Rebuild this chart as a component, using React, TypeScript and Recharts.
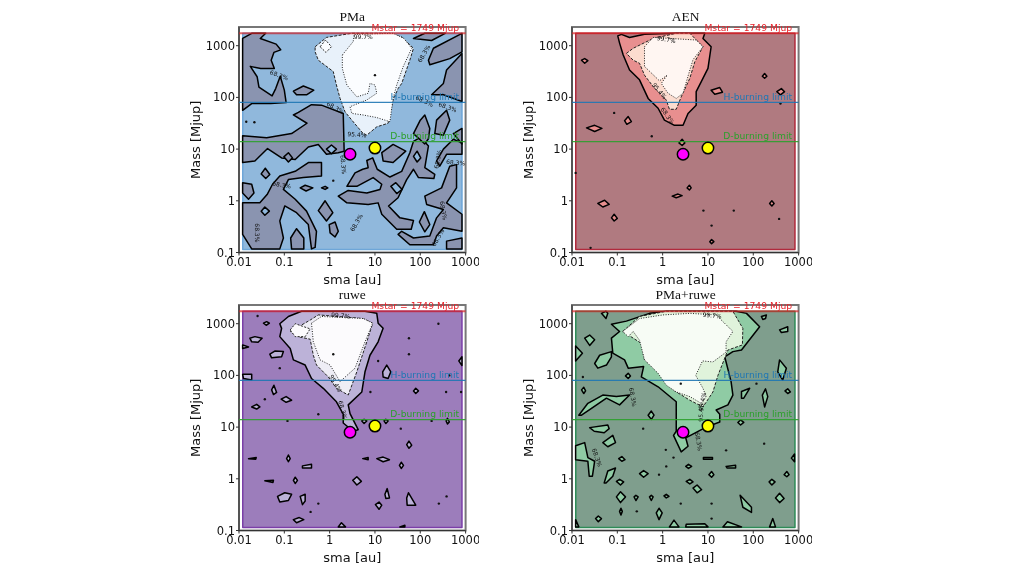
import { ScatterChart, Scatter, XAxis, YAxis, ReferenceArea, Polygon } from 'recharts';

type Pt = number[];

const SMA_TICKS = [0.01, 0.1, 1, 10, 100, 1000];
const MASS_TICKS = [0.1, 1, 10, 100, 1000];
const LIMIT_VALUES = [1749, 80, 14];
const LIMIT_NAMES = ['Mstar = 1749 Mjup', 'H-burning limit', 'D-burning limit'];
const LIMIT_COLORS = ['#e8222a', '#1f77b4', '#2ca02c'];

// all contour vertices below are [log10 sma, log10 mass]
const REGION: Pt[] = [[-1.917, -0.94], [2.92, -0.94], [2.92, 3.243], [-1.917, 3.243]];
const COMPANIONS: Pt[] = [[0.45, 0.9]];
const COMPANIONS_B: Pt[] = [[1.0, 1.02]];

const PMA_ISLANDS: Pt[][] = [
  [[-1.92, 3.14], [-1.72, 3.24], [-1.41, 3.24], [-1.53, 3.14], [-1.18, 3.03], [-1.08, 2.92], [-1.23, 2.87], [-1.29, 2.72], [-1.22, 2.56], [-1.52, 2.56], [-1.75, 2.6], [-1.6, 2.4], [-1.56, 2.2], [-1.27, 2.03], [-1.19, 2.17], [-1.09, 2.41], [-1.0, 2.14], [-0.96, 1.9], [-1.3, 1.88], [-1.72, 1.88], [-1.92, 1.75]],
  [[-0.69, 1.71], [-0.4, 1.86], [-0.18, 1.85], [0.3, 1.69], [0.32, 0.96], [0.19, 0.93], [-0.07, 0.9], [-0.25, 1.09], [-0.47, 1.04], [-0.76, 0.8], [-1.06, 0.83], [-1.37, 1.01], [-1.65, 0.77], [-1.92, 0.74], [-1.92, 1.26], [-1.39, 1.22], [-0.84, 1.3], [-0.5, 1.5], [-0.8, 1.66]],
  [[-0.8, 2.12], [-0.58, 2.22], [-0.35, 2.14], [-0.51, 2.05], [-0.73, 2.05]],
  [[-1.92, 0.35], [-1.72, 0.32], [-1.67, 0.15], [-1.79, 0.03], [-1.92, 0.15]],
  [[-1.92, -0.04], [-1.54, -0.04], [-1.38, 0.12], [-1.26, 0.32], [-1.1, 0.48], [-0.76, 0.57], [-0.47, 0.74], [-0.18, 0.74], [-0.18, 0.48], [-0.58, 0.45], [-0.91, 0.41], [-1.02, 0.22], [-0.76, 0.03], [-0.51, -0.2], [-0.29, -0.59], [-0.32, -0.9], [-0.4, -0.93], [-0.47, -0.46], [-0.73, -0.23], [-0.99, -0.1], [-1.1, -0.39], [-1.02, -0.72], [-1.1, -0.93], [-1.72, -0.93], [-1.92, -0.65]],
  [[-0.73, -0.54], [-0.57, -0.72], [-0.57, -0.93], [-0.84, -0.93], [-0.86, -0.72]],
  [[-1.51, 0.52], [-1.42, 0.63], [-1.32, 0.51], [-1.41, 0.43]],
  [[-1.01, 0.85], [-0.91, 0.93], [-0.82, 0.83], [-0.91, 0.75]],
  [[-0.65, 0.25], [-0.54, 0.3], [-0.37, 0.25], [-0.52, 0.19]],
  [[-0.18, 0.25], [-0.1, 0.28], [-0.04, 0.25], [-0.1, 0.22]],
  [[-0.25, -0.19], [-0.1, 0], [0.07, -0.23], [-0.07, -0.39]],
  [[-0.01, -0.46], [0.12, -0.41], [0.19, -0.59], [0.12, -0.7], [0.01, -0.62]],
  [[1.15, 0.93], [1.4, 1.09], [1.68, 0.96], [1.4, 0.74], [1.18, 0.77]],
  [[0.38, 0.28], [0.56, 0.54], [0.73, 0.61], [0.85, 0.64], [0.82, 0.78], [0.95, 0.83], [1.05, 0.61], [1.33, 0.46], [1.59, 0.57], [1.77, 0.93], [1.85, 1.15], [2.01, 1.23], [2.18, 1.06], [2.1, 0.64], [2.32, 0.51], [2.3, 0.43], [1.96, 0.45], [1.85, 0.61], [1.7, 0.41], [1.51, 0.06], [1.3, -0.1], [1.55, -0.33], [1.85, -0.38], [1.8, -0.55], [1.48, -0.55], [1.15, -0.26], [1.07, -0.04], [0.85, -0.07], [0.38, -0.04], [0.19, 0.09], [0.41, 0.2], [0.82, 0.15], [1.11, 0.22], [1.15, 0.32], [0.96, 0.45], [0.6, 0.28]],
  [[2.58, -0.78], [2.92, -0.72], [2.92, -0.93], [2.58, -0.93]],
  [[2.1, 0.09], [2.47, 0.25], [2.65, 0.67], [2.8, 0.7], [2.8, 0.25], [2.58, -0.04], [2.92, -0.26], [2.92, -0.59], [2.51, -0.52], [2.36, -0.68], [2.29, -0.85], [1.77, -0.85], [1.51, -0.65], [1.59, -0.59], [1.85, -0.72], [2.21, -0.68], [2.36, -0.33], [2.51, -0.17], [2.14, -0.07]],
  [[1.98, -0.41], [2.09, -0.21], [2.21, -0.46], [2.1, -0.6]],
  [[2.36, 0.77], [2.51, 1], [2.73, 1.19], [2.92, 1.12], [2.92, 0.9], [2.58, 0.9], [2.43, 0.67]],
  [[2.18, 2.72], [2.29, 2.95], [2.92, 3.24], [2.92, 2.88], [2.65, 2.75], [2.21, 2.63]],
  [[1.85, 3.14], [2.1, 3.24], [2.55, 3.24], [2.25, 3.1]],
  [[2.25, 2.05], [2.51, 2.27], [2.58, 2.53], [2.92, 2.85], [2.92, 1.92], [2.51, 2.05]],
  [[1.85, 1.3], [2, 1.56], [2.1, 1.66], [2.21, 1.4], [2.18, 1.2], [2.1, 1.1]],
  [[2.36, 1.56], [2.58, 1.75], [2.65, 1.56], [2.51, 1.27], [2.32, 1.3]],
  [[2.73, 1.3], [2.92, 1.4], [2.92, 1.1]],
];
const PMA_HOLES: Pt[][] = [
  [[-1.51, -0.2], [-1.43, -0.12], [-1.33, -0.2], [-1.43, -0.28]],
  [[1.85, 0.86], [1.93, 0.96], [2.01, 0.83], [1.93, 0.75]],
  [[1.35, 0.28], [1.46, 0.35], [1.6, 0.22], [1.48, 0.14]],
  [[-0.07, 1], [0.04, 1.08], [0.15, 1], [0.04, 0.91]],
];
const PMA_LIGHT: Pt[] = [[-0.32, 2.98], [-0.07, 3.16], [0.49, 3.24], [1.33, 3.24], [1.59, 3.17], [1.85, 2.95], [1.77, 2.72], [1.59, 2.27], [1.51, 2.17], [1.4, 1.95], [1.29, 1.5], [1.04, 1.43], [0.82, 1.27], [0.74, 1.3], [0.49, 1.56], [0.34, 1.72], [0.23, 1.98], [0.15, 2.24], [0.08, 2.5], [-0.25, 2.72], [-0.32, 2.88]];
const PMA_INNER: Pt[] = [[0.28, 2.82], [0.52, 3.08], [0.54, 3.22], [1.4, 3.24], [1.64, 3.14], [1.81, 2.95], [1.62, 2.59], [1.48, 2.24], [1.4, 1.98], [1.33, 1.53], [1.04, 1.61], [0.74, 1.66], [0.49, 1.69], [0.45, 1.82], [0.82, 1.95], [1.04, 2.08], [1, 2.24], [0.89, 2.27], [0.85, 2.08], [0.6, 2.01], [0.38, 2.24], [0.28, 2.56]];
const PMA_LIGHT_HOLE: Pt[] = [[-0.21, 2.98], [-0.09, 3.11], [0.04, 2.98], [-0.08, 2.87]];
const PMA_DOTS: Pt[] = [[-1.84, 1.53], [-1.66, 1.52], [1.0, 2.43], [0.08, 0.39]];
const PMA_NOTES: (string | number)[][] = [
  ['99.7%', 0.74, 3.16, 0], ['68.3%', -1.12, 2.42, 20], ['68.3%', 0.12, 1.79, 30], ['95.4%', 0.6, 1.27, 5],
  ['68.3%', 2.09, 2.84, -60], ['68.3%', 2.09, 1.92, 25], ['68.3%', 2.6, 1.8, 20], ['68.3%', 0.29, 0.7, 85],
  ['68.3%', -1.06, 0.3, 10], ['68.3%', 2.4, 0.8, -80], ['68.3%', 2.78, 0.73, 5], ['68.3%', 2.5, -0.19, 80],
  ['68.3%', -1.62, -0.62, 90], ['68.3%', 0.6, -0.43, -60], ['68.3%', 2.4, -0.72, -60],
];

const AEN_MID: Pt[] = [[-0.99, 3.19], [-0.91, 3.22], [-0.73, 3.16], [-0.4, 3.22], [0.3, 3.24], [0.6, 3.24], [0.93, 3.24], [0.89, 3.14], [1.07, 2.98], [1, 2.56], [0.85, 2.3], [0.74, 2.11], [0.74, 1.85], [0.56, 1.69], [0.45, 1.46], [0.26, 1.46], [0.04, 1.56], [-0.1, 1.79], [-0.32, 1.98], [-0.51, 2.34], [-0.73, 2.53], [-0.87, 2.82], [-0.95, 3.05]];
const AEN_LIGHT: Pt[] = [[-0.8, 2.85], [-0.65, 2.95], [-0.21, 3.14], [0.3, 3.24], [0.6, 3.24], [0.89, 2.98], [0.71, 2.69], [0.6, 2.37], [0.41, 2.01], [0.3, 1.77], [0.15, 1.77], [0.08, 1.95], [-0.21, 2.21], [-0.4, 2.43], [-0.51, 2.66], [-0.65, 2.72]];
const AEN_INNER: Pt[] = [[-0.4, 2.98], [-0.21, 3.16], [0.74, 3.11], [0.89, 2.98], [0.67, 2.73], [0.56, 2.41], [0.45, 2.08], [0.3, 1.98], [0.12, 2.08], [-0.03, 2.27], [0.1, 2.43], [-0.07, 2.32], [-0.4, 2.6]];
const AEN_ISLANDS: Pt[][] = [
  [[-1.79, 2.72], [-1.72, 2.75], [-1.65, 2.71], [-1.72, 2.66]],
  [[-1.68, 1.41], [-1.5, 1.46], [-1.34, 1.4], [-1.5, 1.34]],
  [[-0.84, 1.55], [-0.76, 1.63], [-0.69, 1.53], [-0.79, 1.48]],
  [[1.07, 2.14], [1.26, 2.19], [1.32, 2.1], [1.15, 2.06]],
  [[2.52, 2.11], [2.62, 2.17], [2.69, 2.11], [2.6, 2.05]],
  [[2.2, 2.41], [2.25, 2.46], [2.3, 2.41], [2.25, 2.37]],
  [[0.36, 1.12], [0.43, 1.19], [0.49, 1.12], [0.43, 1.07]],
  [[-1.43, -0.05], [-1.28, 0.01], [-1.18, -0.07], [-1.32, -0.12]],
  [[-1.13, -0.33], [-1.07, -0.26], [-1, -0.34], [-1.07, -0.39]],
  [[0.21, 0.09], [0.34, 0.13], [0.43, 0.1], [0.3, 0.06]],
  [[0.54, 0.25], [0.59, 0.3], [0.63, 0.25], [0.59, 0.21]],
  [[2.36, -0.05], [2.41, 0], [2.46, -0.05], [2.41, -0.1]],
  [[1.04, -0.79], [1.08, -0.75], [1.13, -0.79], [1.08, -0.83]],
];
const AEN_DOTS: Pt[] = [[-0.24, 1.25], [-1.07, 1.7], [1.08, -0.48], [0.9, -0.19], [1.57, -0.19], [2.57, -0.35], [-1.92, 0.54], [-1.59, -0.91], [2.6, 1.88]];
const AEN_NOTES: (string | number)[][] = [['99.7%', 0.08, 3.11, 10], ['95.4%', -0.08, 2.12, 50], ['68.3%', 0.1, 1.64, 55]];

const RUWE_MID: Pt[] = [[-1.1, 3.0], [-0.91, 3.14], [-0.62, 3.24], [0.78, 3.24], [1.04, 3.2], [1.07, 3.01], [1.18, 2.91], [1.07, 2.65], [0.89, 2.39], [0.78, 2.07], [0.71, 1.68], [0.41, 1.43], [0.45, 1.26], [0.63, 0.95], [0.52, 0.92], [0.3, 1.08], [0.3, 1.25], [0.15, 1.49], [-0.14, 1.75], [-0.4, 1.94], [-0.54, 2.2], [-0.8, 2.3], [-0.87, 2.52], [-1.1, 2.75], [-1.06, 2.91]];
const RUWE_LIGHT: Pt[] = [[-0.87, 2.85], [-0.43, 3.07], [-0.25, 3.17], [0.74, 3.1], [0.95, 3.01], [0.82, 2.65], [0.6, 2.07], [0.41, 1.62], [0.15, 1.75], [-0.03, 1.97], [-0.29, 2.2], [-0.36, 2.39], [-0.43, 2.7], [-0.7, 2.75]];
const RUWE_BLOB: Pt[] = [[-0.87, 2.88], [-0.76, 3], [-0.43, 2.9], [-0.54, 2.75], [-0.76, 2.75]];
const RUWE_INNER: Pt[] = [[-0.4, 3.01], [-0.18, 3.14], [0.74, 3.1], [0.95, 3.01], [0.78, 2.65], [0.56, 2.14], [0.23, 1.88], [0.01, 2.2], [-0.21, 2.3], [-0.36, 2.65]];
const RUWE_ISLANDS: Pt[][] = [
  [[-1.76, 2.72], [-1.65, 2.75], [-1.49, 2.72], [-1.58, 2.64], [-1.72, 2.65]],
  [[-1.32, 2.41], [-1.21, 2.47], [-1.02, 2.46], [-1.06, 2.36], [-1.28, 2.34]],
  [[-1.92, 2.59], [-1.79, 2.55], [-1.92, 2.52]],
  [[-1.92, 2.02], [-1.72, 2.02], [-1.72, 1.91], [-1.9, 1.94]],
  [[-1.46, 3.01], [-1.39, 3.04], [-1.33, 3.01], [-1.4, 2.97]],
  [[-1.28, 1.72], [-1.23, 1.81], [-1.17, 1.67], [-1.24, 1.63]],
  [[-1.07, 1.54], [-0.96, 1.59], [-0.84, 1.52], [-0.96, 1.48]],
  [[-1.72, 1.39], [-1.61, 1.44], [-1.54, 1.39], [-1.61, 1.35]],
  [[1.17, 2.07], [1.26, 2.2], [1.35, 2.07], [1.29, 1.94], [1.18, 1.97]],
  [[1.85, 1.7], [1.9, 1.75], [1.96, 1.7], [1.9, 1.65]],
  [[2.85, 2.28], [2.92, 2.36], [2.92, 2.19]],
  [[0.71, 1.12], [0.76, 1.15], [0.82, 1.12], [0.76, 1.07]],
  [[1.2, 1.12], [1.24, 1.15], [1.29, 1.12], [1.24, 1.07]],
  [[2.57, 1.12], [2.6, 1.17], [2.64, 1.1], [2.6, 1.06]],
  [[1.7, 0.66], [1.75, 0.73], [1.81, 0.65], [1.75, 0.59]],
  [[1.04, 0.39], [1.18, 0.42], [1.32, 0.37], [1.18, 0.33]],
  [[1.54, 0.26], [1.58, 0.32], [1.63, 0.26], [1.58, 0.2]],
  [[-0.95, 0.39], [-0.91, 0.46], [-0.87, 0.39], [-0.91, 0.33]],
  [[-0.6, 0.25], [-0.4, 0.28], [-0.4, 0.21], [-0.6, 0.21]],
  [[0.51, -0.03], [0.6, 0.04], [0.7, -0.05], [0.6, -0.12]],
  [[-0.8, -0.03], [-0.76, 0.03], [-0.71, -0.03], [-0.76, -0.09]],
  [[-1.15, -0.34], [-0.99, -0.27], [-0.84, -0.3], [-0.91, -0.42], [-1.1, -0.45]],
  [[-0.65, -0.34], [-0.54, -0.3], [-0.54, -0.43], [-0.6, -0.5]],
  [[1.22, -0.3], [1.27, -0.19], [1.32, -0.37], [1.24, -0.38]],
  [[1.01, -0.5], [1.09, -0.45], [1.15, -0.51], [1.09, -0.59]],
  [[1.7, -0.37], [1.74, -0.27], [1.9, -0.51], [1.71, -0.51]],
  [[-0.8, -0.79], [-0.67, -0.75], [-0.57, -0.79], [-0.73, -0.85]],
  [[0.19, -0.93], [0.26, -0.85], [0.35, -0.93]],
  [[1.55, -0.93], [1.66, -0.9], [1.66, -0.93]],
  [[-1.79, 0.39], [-1.62, 0.41], [-1.63, 0.38]],
  [[-1.43, -0.04], [-1.24, -0.03], [-1.25, -0.07]],
  [[0.73, 0.39], [0.85, 0.41], [0.85, 0.37]],
];
const RUWE_DOTS: Pt[] = [[-1.59, 3.15], [0.08, 2.41], [1.07, 2.28], [-1.1, 2.14], [1.75, 2.72], [2.4, 3.0], [1.75, 2.41], [2.64, 2], [0.9, 1.68], [2.57, 1.68], [2.9, 1.68], [-0.25, 1.25], [-1.43, 1.54], [-0.93, 1.12], [2.25, 1.12], [1.57, 0.97], [2.58, -0.34], [2.41, -0.48], [-0.42, -0.64], [-0.25, -0.48]];
const RUWE_NOTES: (string | number)[][] = [['99.7%', 0.24, 3.15, 5], ['95.4%', 0.12, 1.84, 60], ['68.3%', 0.28, 1.33, 75]];

const COMBO_MID: Pt[] = [[0.08, 3.24], [-0.29, 3.2], [-0.8, 3.05], [-1.13, 2.99], [-0.95, 2.85], [-1.13, 2.72], [-1.1, 2.43], [-0.84, 2.3], [-0.76, 2.14], [-0.42, 2.17], [-0.47, 1.97], [-0.1, 1.78], [0.3, 1.49], [0.3, 0.92], [0.24, 0.84], [0.41, 0.52], [0.56, 0.63], [0.51, 0.79], [0.96, 1.0], [1.26, 1.1], [1.26, 1.25], [1.18, 1.33], [1.44, 1.43], [1.55, 1.62], [1.51, 1.88], [1.37, 2.36], [1.55, 2.46], [1.74, 2.49], [2.14, 2.94], [1.85, 3.2], [1.62, 3.24]];
const COMBO_LIGHT: Pt[] = [[-0.88, 2.85], [-0.51, 3.14], [0.08, 3.24], [1.55, 3.24], [1.77, 2.91], [1.76, 2.59], [1.44, 2.49], [1.22, 2], [1.11, 1.68], [0.89, 1.39], [0.6, 1.52], [0.23, 1.72], [-0.07, 2.04], [-0.4, 2.3], [-0.47, 2.62]];
const COMBO_INNER: Pt[] = [[-0.88, 2.85], [-0.51, 3.1], [0.01, 3.17], [0.6, 3.2], [1.18, 3.17], [1.55, 2.85], [1.4, 2.65], [1.4, 2.45], [1.11, 2.26], [0.88, 2.28], [0.73, 2], [0.89, 1.75], [0.96, 1.59], [0.85, 1.46], [0.6, 1.59], [0.3, 1.68], [0.08, 1.81], [-0.1, 2.04], [-0.4, 2.3], [-0.51, 2.68], [-0.65, 2.85], [-0.76, 2.75]];
const COMBO_ISLANDS: Pt[][] = [
  [[-1.35, 3.2], [-1.25, 3.24], [-1.21, 3.2], [-1.25, 3.1]],
  [[-1.72, 2.72], [-1.61, 2.78], [-1.5, 2.69], [-1.61, 2.58]],
  [[-1.92, 2.57], [-1.77, 2.43], [-1.92, 2.28]],
  [[-1.5, 2.23], [-1.39, 2.39], [-1.13, 2.46], [-1.13, 2.36], [-1.24, 2.2], [-1.43, 2.14]],
  [[2.18, 3.14], [2.29, 3.17], [2.27, 3.1], [2.21, 3.08]],
  [[2.58, 2.88], [2.76, 2.94], [2.76, 2.85], [2.62, 2.83]],
  [[2.54, 2.07], [2.58, 2.3], [2.73, 2.14], [2.65, 1.91]],
  [[-0.82, 1.99], [-0.76, 2.04], [-0.71, 1.99], [-0.76, 1.94]],
  [[-1.79, 1.72], [-1.74, 1.77], [-1.7, 1.7], [-1.74, 1.65]],
  [[-1.85, 1.23], [-1.65, 1.46], [-1.32, 1.62], [-1.02, 1.59], [-0.73, 1.62], [-0.95, 1.43], [-1.24, 1.56], [-1.57, 1.36], [-1.79, 1.23]],
  [[-0.32, 1.23], [-0.25, 1.31], [-0.19, 1.23], [-0.25, 1.15]],
  [[1.74, 1.69], [1.92, 1.75], [1.79, 1.56], [1.74, 1.56]],
  [[2.2, 1.62], [2.27, 1.74], [2.32, 1.59], [2.25, 1.39]],
  [[2.7, 1.7], [2.76, 1.74], [2.82, 1.68], [2.76, 1.65]],
  [[1.66, 1.09], [1.72, 1.14], [1.79, 1.09], [1.72, 1.04]],
  [[-1.61, 0.99], [-1.21, 1.04], [-1.18, 0.97], [-1.29, 0.89], [-1.51, 0.92]],
  [[-1.32, 0.7], [-1.1, 0.84], [-1.04, 0.7], [-1.21, 0.62]],
  [[-1.92, 0.64], [-1.72, 0.7], [-1.65, 0.41], [-1.5, 0.34], [-1.55, 0.05], [-1.62, 0.05], [-1.65, 0.34], [-1.92, 0.37]],
  [[-0.97, 0.39], [-0.9, 0.43], [-0.83, 0.37], [-0.9, 0.34]],
  [[-1.29, -0.08], [-1.21, 0.15], [-1.04, 0.21], [-1.1, 0.05], [-1.25, -0.08]],
  [[-1.02, -0.05], [-0.95, -0.01], [-0.86, -0.06], [-0.93, -0.12]],
  [[-0.51, 0.1], [-0.42, 0.16], [-0.32, 0.1], [-0.42, 0.03]],
  [[0.51, 0.24], [0.57, 0.28], [0.64, 0.24], [0.57, 0.2]],
  [[0.52, -0.05], [0.6, -0.01], [0.67, -0.06], [0.6, -0.1]],
  [[0.67, -0.18], [0.76, -0.12], [0.86, -0.21], [0.76, -0.27]],
  [[1.4, 0.24], [1.61, 0.26], [1.61, 0.21], [1.42, 0.21]],
  [[1.02, 0.08], [1.08, 0.14], [1.13, 0.08], [1.08, 0.03]],
  [[2.68, 0.08], [2.74, 0.14], [2.79, 0.08], [2.74, 0.04]],
  [[2.35, -0.06], [2.41, -0.01], [2.48, -0.06], [2.41, -0.12]],
  [[2.84, 0.4], [2.91, 0.48], [2.91, 0.33]],
  [[-1.02, -0.35], [-0.93, -0.25], [-0.82, -0.35], [-0.93, -0.46]],
  [[-0.63, -0.35], [-0.59, -0.32], [-0.54, -0.35], [-0.59, -0.42]],
  [[-0.29, -0.35], [-0.25, -0.32], [-0.21, -0.35], [-0.25, -0.42]],
  [[0.03, -0.33], [0.08, -0.3], [0.14, -0.34], [0.08, -0.37]],
  [[-0.14, -0.66], [-0.08, -0.57], [-0.01, -0.66], [-0.08, -0.79]],
  [[-0.95, -0.63], [-0.92, -0.57], [-0.89, -0.63], [-0.92, -0.7]],
  [[-1.48, -0.77], [-1.42, -0.72], [-1.35, -0.77], [-1.42, -0.83]],
  [[1.71, -0.32], [1.96, -0.55], [1.96, -0.65], [1.77, -0.55]],
  [[2.49, -0.37], [2.58, -0.28], [2.68, -0.38], [2.58, -0.46]],
  [[0.15, -0.93], [0.25, -0.8], [0.36, -0.93]],
  [[0.52, -0.88], [0.93, -0.87], [1, -0.93], [0.51, -0.93]],
  [[1.33, -0.93], [1.43, -0.83], [1.74, -0.93]],
  [[2.36, -0.93], [2.43, -0.77], [2.49, -0.93]],
  [[-1.92, -0.79], [-1.85, -0.93], [-1.92, -0.93]],
  [[0.9, 0.41], [1.1, 0.41], [1.1, 0.38], [0.9, 0.38]],
];
const COMBO_DOTS: Pt[] = [[-0.43, 0.97], [0.07, 0.56], [0.24, 0.41], [1.4, 0.55], [2.24, 0.68], [0.08, 0.24], [-0.08, 0.08], [-0.57, -0.63], [0.4, -0.48], [1.08, -0.48], [1.08, -0.77], [2.07, 1.84], [0.4, 1.84], [-1.76, 1.97]];
const COMBO_NOTES: (string | number)[][] = [['99.7%', 1.09, 3.15, 5], ['95.4%', 0.89, 1.49, -80], ['95.4%', 0.85, 1.29, -90], ['68.3%', -0.67, 1.58, 80], ['68.3%', 0.78, 0.72, 80], ['68.3%', -1.46, 0.41, 70]];

const SANS = '"DejaVu Sans", sans-serif';
const PLOT_W = 226.6;
const PLOT_H = 225.5;

const toPoints = (list: Pt[]) => list.map(([a, b]) => ({ sma: 10 ** a, mass: 10 ** b }));
const noMark = () => <g />;

function contour(key: string, list: Pt[], fill: string, stroke = '#000', dash?: string, width = 1.5) {
  return (
    <Scatter
      key={key}
      data={toPoints(list)}
      isAnimationActive={false}
      legendType="none"
      shape={noMark}
      line={(p: any) => <Polygon points={p.points} fill={fill} stroke={stroke} strokeWidth={width} strokeDasharray={dash} strokeLinejoin="round" />}
    />
  );
}

function NoteShape(props: any) {
  const { cx, cy, payload } = props;
  return (
    <text x={cx} y={cy} fontSize={6} fontFamily={SANS} fill="#111" textAnchor="middle" dominantBaseline="middle" transform={`rotate(${payload.angle} ${cx} ${cy})`}>
      {payload.note}
    </text>
  );
}

// horizontal limits go through Scatter so they sit on top of the filled contours
function limitLines() {
  return LIMIT_VALUES.map((v, i) => (
    <Scatter
      key={`limit${i}`}
      data={[{ sma: 0.01, mass: v }, { sma: 1000, mass: v }]}
      isAnimationActive={false}
      shape={noMark}
      line={{ stroke: i === 0 ? '#d62728' : LIMIT_COLORS[i], strokeWidth: i === 0 ? 2 : 1.2, strokeOpacity: i === 0 ? 0.7 : 0.9 }}
    />
  ));
}

function limitLabels() {
  return LIMIT_VALUES.map((v, i) => (
    <Scatter
      key={`limitText${i}`}
      data={[{ sma: 720, mass: v }]}
      isAnimationActive={false}
      shape={(s: any) => (
        <text x={s.cx} y={s.cy - 2.5} textAnchor="end" fontSize={9.2} fontFamily={SANS} fill={LIMIT_COLORS[i]}>
          {LIMIT_NAMES[i]}
        </text>
      )}
    />
  ));
}

interface PanelProps {
  title: string;
  left: number;
  top: number;
  base: string;
  edge: string;
  mid: string;
  light: string;
  inner: string;
  midPolys: Pt[][];
  holes?: Pt[][];
  lightPoly: Pt[];
  innerPoly: Pt[];
  extra?: Pt[];
  extraFill?: string;
  dots: Pt[];
  notes: (string | number)[][];
  yMax: number;
}

function Panel(p: PanelProps) {
  const notes = p.notes.map(n => ({ sma: 10 ** Number(n[1]), mass: 10 ** Number(n[2]), note: n[0], angle: n[3] }));
  return (
    <div style={{ position: 'absolute', left: p.left - 60, top: p.top - 24, width: 300, height: 290, filter: 'blur(0.55px)' }}>
      <div style={{ position: 'absolute', left: 60, width: PLOT_W, top: 6, textAlign: 'center', fontFamily: '"Liberation Serif", serif', fontSize: 13.5, lineHeight: '16px', color: '#111' }}>
        {p.title}
      </div>
      <ScatterChart width={300} height={290} margin={{ top: 24, right: 300 - 60 - PLOT_W, bottom: 290 - 24 - PLOT_H - 38, left: 0 }}>
        <XAxis
          type="number" dataKey="sma" scale="log" domain={[0.01, 1000]} ticks={SMA_TICKS} interval={0} height={38}
          tickFormatter={String} tick={{ fontSize: 11.5, fill: '#111', fontFamily: SANS }} tickSize={3} tickMargin={2} stroke="#333"
          label={{ value: 'sma [au]', position: 'insideBottom', offset: 7, fontSize: 13, fill: '#111', fontFamily: SANS }}
        />
        <YAxis
          type="number" dataKey="mass" scale="log" domain={[0.1, p.yMax]} ticks={MASS_TICKS} interval={0} width={60}
          tickFormatter={String} tick={{ fontSize: 11.5, fill: '#111', fontFamily: SANS }} tickSize={3} tickMargin={1} stroke="#333"
          label={{ value: 'Mass [Mjup]', angle: -90, position: 'insideLeft', offset: 16, textAnchor: 'middle', fontSize: 13, fill: '#111', fontFamily: SANS }}
        />
        {contour('base', REGION, p.base, p.edge, undefined, 1.5)}
        {p.midPolys.map((poly, i) => contour(`m${i}`, poly, p.mid))}
        {(p.holes ?? []).map((poly, i) => contour(`h${i}`, poly, p.base))}
        {contour('light', p.lightPoly, p.light, '#222', '3 1.5', 1)}
        {contour('inner', p.innerPoly, p.inner, '#222', '1 1.5', 1)}
        {p.extra && contour('extra', p.extra, p.extraFill ?? p.base, '#222', '2 1.5', 1)}
        <Scatter data={toPoints(p.dots)} isAnimationActive={false} shape={(s: any) => <circle cx={s.cx} cy={s.cy} r={1.2} fill="#111" />} />
        <Scatter data={notes} isAnimationActive={false} shape={NoteShape} />
        {limitLines()}
        {limitLabels()}
        <Scatter data={toPoints(COMPANIONS)} isAnimationActive={false} shape={(s: any) => <circle cx={s.cx} cy={s.cy} r={5.7} fill="#ff00ff" stroke="#000" strokeWidth={1.5} />} />
        <Scatter data={toPoints(COMPANIONS_B)} isAnimationActive={false} shape={(s: any) => <circle cx={s.cx} cy={s.cy} r={5.7} fill="#ffff00" stroke="#000" strokeWidth={1.5} />} />
        <ReferenceArea x1={0.01} x2={1000} y1={0.1} y2={p.yMax} fill="none" stroke="#777" strokeWidth={2} ifOverflow="visible" />
      </ScatterChart>
    </div>
  );
}

export default function App() {
  return (
    <div style={{ position: 'absolute', left: 0, top: 0, width: 1024, height: 576, background: '#fff', overflow: 'hidden' }}>
      <Panel title="PMa" left={239} top={27} base="#90b8dc" edge="#6ea6d8" mid="#8a94b0" light="#e8f1fa" inner="#fbfdff"
        midPolys={PMA_ISLANDS} holes={PMA_HOLES} lightPoly={PMA_LIGHT} innerPoly={PMA_INNER} extra={PMA_LIGHT_HOLE} extraFill="#fbfdff" dots={PMA_DOTS} notes={PMA_NOTES} yMax={2300} />
      <Panel title="AEN" left={572.3} top={27} base="#b07a80" edge="#b02a3c" mid="#e88f8f" light="#fcdccf" inner="#fff6f2"
        midPolys={[AEN_MID, ...AEN_ISLANDS]} lightPoly={AEN_LIGHT} innerPoly={AEN_INNER} dots={AEN_DOTS} notes={AEN_NOTES} yMax={2300} />
      <Panel title="ruwe" left={239} top={305} base="#9c7dbb" edge="#7b3fa8" mid="#bcb2d8" light="#eeedf5" inner="#fcfbfd"
        midPolys={[RUWE_MID, ...RUWE_ISLANDS]} lightPoly={RUWE_LIGHT} innerPoly={RUWE_INNER} extra={RUWE_BLOB} extraFill="#fcfbfd" dots={RUWE_DOTS} notes={RUWE_NOTES} yMax={2300} />
      <Panel title="PMa+ruwe" left={572.3} top={305} base="#7f9e8d" edge="#2e8b57" mid="#8fcba4" light="#e0f3db" inner="#f7fcf5"
        midPolys={[COMBO_MID, ...COMBO_ISLANDS]} lightPoly={COMBO_LIGHT} innerPoly={COMBO_INNER} dots={COMBO_DOTS} notes={COMBO_NOTES} yMax={2300} />
    </div>
  );
}
